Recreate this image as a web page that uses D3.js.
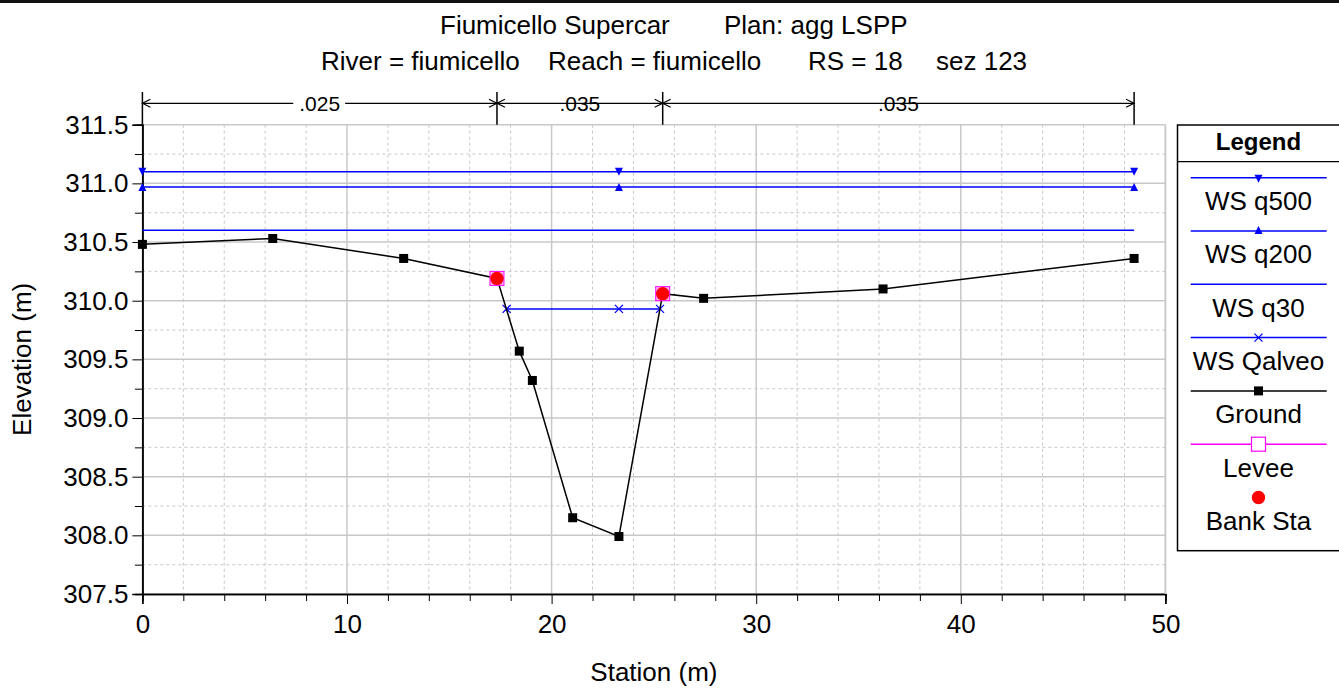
<!DOCTYPE html>
<html>
<head>
<meta charset="utf-8">
<script src="https://cdn.jsdelivr.net/npm/d3@7"></script>
<style>
  html, body { margin: 0; padding: 0; background: #fff; }
  svg { display: block; font-family: "Liberation Sans", Arial, sans-serif; }
</style>
</head>
<body>
<svg id="chart" width="1339" height="691"></svg>
<script>
// ---------------- DATA ----------------
const groundStation = [0, 6.37, 12.77, 17.33, 18.42, 19.06, 21.03, 23.29, 25.43, 27.43, 36.2, 48.47];
const groundElev    = [310.48, 310.53, 310.36, 310.19, 309.57, 309.32, 308.15, 307.99, 310.06, 310.02, 310.10, 310.36];

const wsNames   = ["WS q500", "WS q200", "WS q30"];
const wsElev    = [311.10, 310.97, 310.60];
const wsStart   = [0, 0, 0];
const wsEnd     = [48.47, 48.47, 48.47];
const wsMarkerStations = [0, 23.29, 48.47];

const qalveoElev = 309.93;
const qalveoStations = [17.8, 23.29, 25.3];

const leveeStation = [17.33, 25.43];
const leveeElev    = [310.19, 310.06];
const bankStation  = [17.33, 25.43];
const bankElev     = [310.19, 310.06];

const manningBounds = [0, 17.33, 25.43, 48.47];
const manningValues = [".025", ".035", ".035"];

const xMajorTicks = [0, 10, 20, 30, 40, 50];
const yMajorTicks = [307.5, 308.0, 308.5, 309.0, 309.5, 310.0, 310.5, 311.0, 311.5];

const titleLine1 = ["Fiumicello Supercar", "Plan: agg LSPP"];
const titleLine2 = ["River = fiumicello", "Reach = fiumicello", "RS = 18", "sez 123"];
const legendNames = ["WS q500", "WS q200", "WS q30", "WS Qalveo", "Ground", "Levee", "Bank Sta"];

// ---------------- LAYOUT ----------------
const svg = d3.select("#chart");
const FS = 26;
const pL = 142.4, pR = 1165.4, pT = 124.7, pB = 594;
const x = d3.scaleLinear().domain([0, 50]).range([pL, pR]);
const y = d3.scaleLinear().domain([307.5, 311.5]).range([pB, pT]);
const blue = "#0000ff";

// top border
svg.append("rect").attr("x", 0).attr("y", 0).attr("width", 1339).attr("height", 3).attr("fill", "#111");

// grid
const grid = svg.append("g");
const xMinor = d3.range(0, 50.01, 2).filter(v => v % 10 !== 0);
const yMinor = d3.range(307.75, 311.5, 0.5);
grid.selectAll(".vx").data(xMinor).join("line")
  .attr("x1", d => x(d)).attr("x2", d => x(d)).attr("y1", pT).attr("y2", pB)
  .attr("stroke", "#c8c8c8").attr("stroke-width", 1).attr("stroke-dasharray", "3,3");
grid.selectAll(".hy").data(yMinor).join("line")
  .attr("x1", pL).attr("x2", pR).attr("y1", d => y(d)).attr("y2", d => y(d))
  .attr("stroke", "#c8c8c8").attr("stroke-width", 1).attr("stroke-dasharray", "3,3");
grid.selectAll(".vX").data(xMajorTicks).join("line")
  .attr("x1", d => x(d)).attr("x2", d => x(d)).attr("y1", pT).attr("y2", pB)
  .attr("stroke", "#c8c8c8").attr("stroke-width", 1.5);
grid.selectAll(".hY").data(yMajorTicks).join("line")
  .attr("x1", pL).attr("x2", pR).attr("y1", d => y(d)).attr("y2", d => y(d))
  .attr("stroke", "#c8c8c8").attr("stroke-width", 1.5);

// axes
const xAxisMinor = d3.axisBottom(x).tickValues(xMinor).tickSize(7).tickFormat("");
const xAxis = d3.axisBottom(x).tickValues(xMajorTicks).tickSize(10).tickPadding(11).tickFormat(d3.format("d"));
const yAxisMinor = d3.axisLeft(y).tickValues(yMinor).tickSize(7.5).tickFormat("");
const yAxis = d3.axisLeft(y).tickValues(yMajorTicks).tickSize(10).tickPadding(4).tickFormat(d3.format(".1f"));

function styleAxis(g) {
  g.selectAll("path").attr("stroke", "#000").attr("stroke-width", 1.5);
  g.selectAll("line").attr("stroke", "#000").attr("stroke-width", 1);
  g.selectAll("text").attr("font-size", FS).attr("fill", "#000").attr("font-family", "Liberation Sans, Arial, sans-serif");
}
svg.append("g").attr("transform", `translate(0,${pB})`).call(xAxisMinor).call(styleAxis);
svg.append("g").attr("transform", `translate(0,${pB})`).call(xAxis).call(styleAxis);
svg.append("g").attr("transform", `translate(${pL},0)`).call(yAxisMinor).call(styleAxis);
svg.append("g").attr("transform", `translate(${pL},0)`).call(yAxis).call(styleAxis);

// axis titles
svg.append("text").attr("x", (pL + pR) / 2).attr("y", 681).attr("text-anchor", "middle")
  .attr("font-size", FS).text("Station (m)");
svg.append("text").attr("transform", `translate(31,${(pT + pB) / 2}) rotate(-90)`)
  .attr("text-anchor", "middle").attr("font-size", FS).text("Elevation (m)");

// titles
const t1x = [440, 724];
const t2x = [321, 548, 808, 936];
svg.selectAll(".t1").data(titleLine1).join("text").attr("x", (d, i) => t1x[i]).attr("y", 34)
  .attr("font-size", FS).text(d => d);
svg.selectAll(".t2").data(titleLine2).join("text").attr("x", (d, i) => t2x[i]).attr("y", 70)
  .attr("font-size", FS).text(d => d);

// Manning n annotations
const mg = svg.append("g");
const arrowY = 103.3;
mg.selectAll(".mv").data(manningBounds).join("line")
  .attr("x1", d => x(d)).attr("x2", d => x(d)).attr("y1", 92).attr("y2", pT)
  .attr("stroke", "#000").attr("stroke-width", 1.5);
manningValues.forEach((v, i) => {
  const a = x(manningBounds[i]), b = x(manningBounds[i + 1]);
  mg.append("line").attr("x1", a).attr("x2", b).attr("y1", arrowY).attr("y2", arrowY)
    .attr("stroke", "#000").attr("stroke-width", 1.2);
  mg.append("path").attr("d", `M${a + 8},${arrowY - 4}L${a},${arrowY}L${a + 8},${arrowY + 4}`)
    .attr("fill", "none").attr("stroke", "#000").attr("stroke-width", 1.2);
  mg.append("path").attr("d", `M${b - 8},${arrowY - 4}L${b},${arrowY}L${b - 8},${arrowY + 4}`)
    .attr("fill", "none").attr("stroke", "#000").attr("stroke-width", 1.2);
  const t = mg.append("text").attr("x", (a + b) / 2).attr("y", arrowY + 7.5)
    .attr("text-anchor", "middle").attr("font-size", 21).text(v);
  const bb = t.node().getBBox();
  mg.insert("rect", "text").attr("x", bb.x - 6).attr("y", arrowY - 4).attr("width", bb.width + 11)
    .attr("height", 8).attr("fill", "#fff");
});

// right plot border
svg.append("line").attr("x1", pR).attr("x2", pR).attr("y1", pT).attr("y2", pB)
  .attr("stroke", "#c8c8c8").attr("stroke-width", 1.5);

// ---------------- MARKS ----------------
wsNames.forEach((n, i) => {
  svg.append("line").attr("x1", x(wsStart[i])).attr("x2", x(wsEnd[i]))
    .attr("y1", y(wsElev[i])).attr("y2", y(wsElev[i]))
    .attr("stroke", blue).attr("stroke-width", 1.5);
});
function triangle(cx, cy, dir, s) {
  return `M${cx - s / 2},${cy - dir * s / 2}L${cx + s / 2},${cy - dir * s / 2}L${cx},${cy + dir * s / 2}Z`;
}
svg.selectAll(".m500").data(wsMarkerStations).join("path")
  .attr("d", d => triangle(x(d), y(wsElev[0]), 1, 8)).attr("fill", blue);
svg.selectAll(".m200").data(wsMarkerStations).join("path")
  .attr("d", d => triangle(x(d), y(wsElev[1]), -1, 8)).attr("fill", blue);

svg.append("line").attr("x1", x(qalveoStations[0])).attr("x2", x(qalveoStations[qalveoStations.length - 1]))
  .attr("y1", y(qalveoElev)).attr("y2", y(qalveoElev)).attr("stroke", blue).attr("stroke-width", 1.5);
function xMark(cx, cy, s) {
  return `M${cx - s},${cy - s}L${cx + s},${cy + s}M${cx - s},${cy + s}L${cx + s},${cy - s}`;
}
svg.selectAll(".mq").data(qalveoStations).join("path")
  .attr("d", d => xMark(x(d), y(qalveoElev), 4)).attr("stroke", blue).attr("stroke-width", 1.3).attr("fill", "none");

const groundPts = groundStation.map((s, i) => [s, groundElev[i]]);
svg.append("path").datum(groundPts)
  .attr("d", d3.line().x(d => x(d[0])).y(d => y(d[1])))
  .attr("fill", "none").attr("stroke", "#000").attr("stroke-width", 1.5);
svg.selectAll(".mgp").data(groundPts).join("rect")
  .attr("x", d => x(d[0]) - 4.5).attr("y", d => y(d[1]) - 4.5).attr("width", 9).attr("height", 9).attr("fill", "#000");

svg.selectAll(".ml").data(leveeStation).join("rect")
  .attr("x", d => x(d) - 7).attr("y", (d, i) => y(leveeElev[i]) - 7).attr("width", 14).attr("height", 14)
  .attr("fill", "#ffb3ff").attr("stroke", "#ff00ff").attr("stroke-width", 1);

svg.selectAll(".mb").data(bankStation).join("circle")
  .attr("cx", d => x(d)).attr("cy", (d, i) => y(bankElev[i])).attr("r", 6.7).attr("fill", "#ff0000");

// ---------------- LEGEND ----------------
const lg = svg.append("g");
const lx0 = 1177.5, ly0 = 125, ly1 = 550.7;
lg.append("rect").attr("x", lx0).attr("y", ly0).attr("width", 200).attr("height", ly1 - ly0)
  .attr("fill", "#fff").attr("stroke", "#000").attr("stroke-width", 1.5);
lg.append("line").attr("x1", lx0).attr("x2", 1339).attr("y1", 161.7).attr("y2", 161.7)
  .attr("stroke", "#000").attr("stroke-width", 1.2);
const lcx = 1258.5;
lg.append("text").attr("x", lcx).attr("y", 150).attr("text-anchor", "middle")
  .attr("font-size", 24).attr("font-weight", "bold").text("Legend");
const lineX1 = 1190.7, lineX2 = 1326.7;
legendNames.forEach((n, i) => {
  const ly = 177.7 + i * 53.3;
  const tb = 210 + i * 53.3;
  lg.append("text").attr("x", lcx).attr("y", tb).attr("text-anchor", "middle").attr("font-size", FS).text(n);
  if (i < 6) {
    lg.append("line").attr("x1", lineX1).attr("x2", lineX2).attr("y1", ly).attr("y2", ly)
      .attr("stroke", i < 4 ? blue : (i === 4 ? "#000" : "#ff00ff")).attr("stroke-width", 1.5);
  }
  if (i === 0) lg.append("path").attr("d", triangle(lcx, ly + 1, 1, 8)).attr("fill", blue);
  if (i === 1) lg.append("path").attr("d", triangle(lcx, ly - 1, -1, 8)).attr("fill", blue);
  if (i === 3) lg.append("path").attr("d", xMark(lcx, ly, 4)).attr("stroke", blue).attr("stroke-width", 1.3);
  if (i === 4) lg.append("rect").attr("x", lcx - 4.5).attr("y", ly - 4.5).attr("width", 9).attr("height", 9).attr("fill", "#000");
  if (i === 5) lg.append("rect").attr("x", lcx - 7).attr("y", ly - 7).attr("width", 14).attr("height", 14)
    .attr("fill", "#fff").attr("stroke", "#ff00ff").attr("stroke-width", 1.2);
  if (i === 6) lg.append("circle").attr("cx", lcx).attr("cy", ly).attr("r", 6.7).attr("fill", "#ff0000");
});
</script>
</body>
</html>
